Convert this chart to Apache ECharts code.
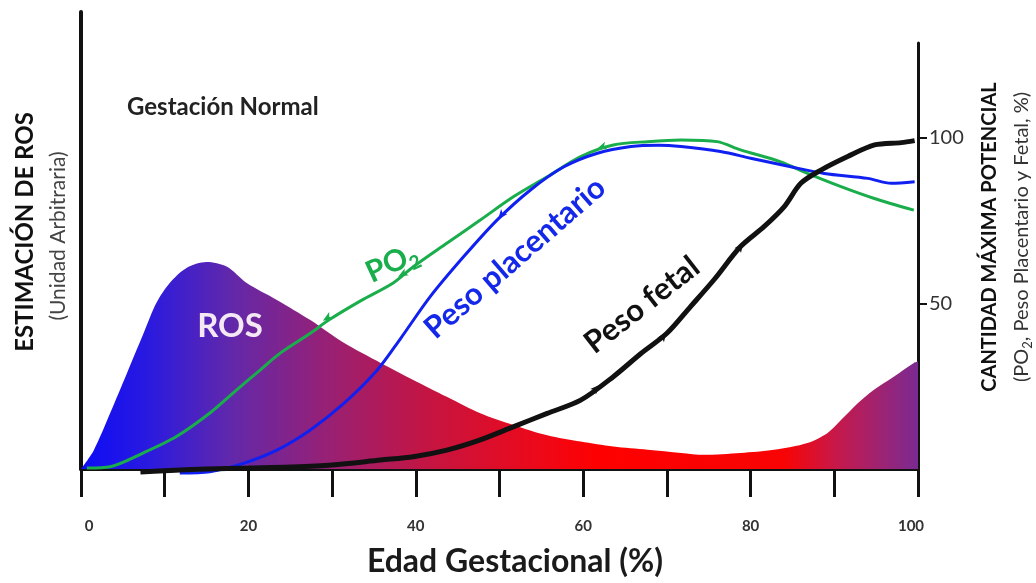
<!DOCTYPE html>
<html>
<head>
<meta charset="utf-8">
<script src="https://cdn.jsdelivr.net/npm/echarts@6/dist/echarts.min.js"></script>
<style>
  html, body { margin: 0; padding: 0; background: #ffffff; }
  #chart { width: 1036px; height: 583px; }
</style>
</head>
<body>
<div id="chart"></div>
<script>
// Gestational age (% of term) on the x axis
const xLabelValues = [0, 20, 40, 60, 80, 100];
const rightTickValues = [50, 100];

// ROS estimate, arbitrary units (left axis, 0-100)
const rosCurve = [
  [0, 0], [1.5, 4], [3.5, 12.3], [5.5, 21], [7.5, 29.8], [9, 36.3], [10.6, 40.7],
  [12.6, 44], [15, 45.3], [17.4, 44.3], [19.8, 40.7], [23.4, 37], [27.4, 32.6],
  [31.4, 27.6], [35.8, 23.2], [39.7, 19.5], [43.7, 15.8], [47.7, 12.2], [51.7, 9.6],
  [55.7, 7.4], [59.7, 6.0], [63.6, 4.9], [67.7, 4.2], [71.7, 3.5], [74.4, 3.1],
  [78.8, 3.5], [82.8, 4.2], [86.8, 5.7], [89.2, 7.9], [90.8, 10.7], [92.8, 14.4],
  [94.7, 17.3], [97.1, 20.2], [99.5, 23.2], [100, 23.5]
];

// PO2, % of maximum (right axis)
const po2Curve = [
  [0.7, 0.3], [3.5, 0.7], [7.4, 4.8], [11.4, 9.8], [15.4, 16.9], [18.6, 23.9],
  [21.4, 29.9], [23.8, 35], [27.4, 41], [29.6, 45], [33.4, 50.8], [37.3, 56.2],
  [39.7, 61.1], [43.7, 68.2], [47.7, 75.2], [51.7, 82.3], [55.7, 88.3], [59.7, 94.4],
  [63.6, 97.9], [67.7, 98.9], [71.7, 99.4], [76, 98.9], [78.8, 96.4], [83.6, 92.8],
  [86.8, 89.3], [90.8, 85.3], [94.7, 81.8], [99.5, 78.2]
];

// Placental weight, % of maximum (right axis)
const placentaCurve = [
  [11.8, -1.2], [15.4, -0.8], [19.4, 1.7], [23.4, 5.7], [27.4, 11.8], [31.4, 19.8],
  [35.4, 29.9], [38.2, 39.5], [41.7, 52], [45.7, 64.1], [49.7, 75.2], [53.7, 84.3],
  [57.7, 91.3], [61.7, 95.4], [65.7, 97.4], [69, 97.8], [71.7, 97.4], [76.4, 95.9],
  [80, 93.9], [84.8, 91.3], [88.8, 89.3], [94, 87.8], [96.8, 86.3], [99.6, 86.8]
];

// Fetal weight, % of maximum (right axis)
const fetalCurve = [
  [7.1, -0.9], [10, -0.5], [15, 0], [20, 0.3], [25, 0.6], [30, 1.2], [35.8, 2.7],
  [39.7, 3.7], [43.7, 5.7], [47.7, 8.8], [51.7, 12.8], [55.7, 16.8], [59.7, 20.8],
  [63.6, 27.9], [66.9, 34.9], [70, 41], [72.8, 49], [75.6, 57.1], [78.8, 67.2],
  [81.6, 73.2], [84, 79.2], [86, 86.3], [88.4, 90.3], [91.6, 94.4], [94.8, 97.9],
  [98, 98.6], [99.6, 99.2]
];

// Direction arrowheads along the curves: [age, value, heading in degrees]
const po2Arrows = [[29.4, 45.6, 212], [38.4, 58.8, 210], [62.2, 97.2, 200]];
const placentaArrows = [[50.2, 76.6, 232]];
const fetalArrows = [[61.6, 24.4, 45], [69.6, 40.2, 55], [78.8, 67.2, 55]];

const FONT = 'Lato, "Open Sans", sans-serif';
const deg = d => d * Math.PI / 180;
const ARROW = 'path://M0,0L12,5L0,10L3,5Z';

const chart = echarts.init(document.getElementById('chart'), null, { renderer: 'canvas' });

const rosGradient = new echarts.graphic.LinearGradient(0, 0, 1, 0, [
  { offset: 0.00, color: '#0c0cf6' },
  { offset: 0.08, color: '#2a1ae0' },
  { offset: 0.18, color: '#6228aa' },
  { offset: 0.30, color: '#9a2072' },
  { offset: 0.42, color: '#c61440' },
  { offset: 0.55, color: '#ee0818' },
  { offset: 0.62, color: '#fe0000' },
  { offset: 0.84, color: '#f80404' },
  { offset: 0.90, color: '#c81848' },
  { offset: 0.96, color: '#9a2476' },
  { offset: 1.00, color: '#7a2a92' }
]);

function arrowMarks(list, color) {
  return {
    silent: true,
    symbol: ARROW,
    symbolSize: [10, 8],
    label: { show: false },
    itemStyle: { color: color },
    data: list.map(a => ({ coord: [a[0], a[1]], symbolRotate: a[2] }))
  };
}

function labelText(x, y, text, size, color, rot, weight, align) {
  return {
    type: 'text', x: x, y: y, rotation: rot ? deg(rot) : 0, z: 10,
    style: {
      text: text, fill: color, font: (weight || 'bold') + ' ' + size + 'px ' + FONT,
      align: align || 'center', verticalAlign: 'middle'
    }
  };
}

const option = {
  animation: false,
  backgroundColor: '#ffffff',
  grid: [
    { left: 81, right: 118, top: 12, bottom: 114 },
    { left: 81, right: 118, top: 43, bottom: 114 }
  ],
  xAxis: [
    {
      gridIndex: 0, type: 'value', min: 0, max: 100, interval: 10,
      axisLine: { onZero: false, lineStyle: { color: '#111', width: 4 } },
      axisTick: { length: 28, lineStyle: { color: '#111', width: 3 } },
      splitLine: { show: false },
      axisLabel: {
        margin: 50, color: '#333', fontFamily: FONT, fontWeight: 'bold', fontSize: 15,
        formatter: v => {
          if (v === 0) return '{first|0}';
          if (v === 100) return '{last|100}';
          return xLabelValues.indexOf(v) >= 0 ? String(v) : '';
        },
        rich: {
          first: { padding: [0, 0, 0, 16], color: '#333', fontFamily: FONT, fontWeight: 'bold', fontSize: 15 },
          last: { padding: [0, 14, 0, 0], color: '#333', fontFamily: FONT, fontWeight: 'bold', fontSize: 15 }
        }
      }
    },
    { gridIndex: 1, type: 'value', min: 0, max: 100, show: false }
  ],
  yAxis: [
    {
      gridIndex: 0, type: 'value', min: 0, max: 100,
      axisLine: { show: true, onZero: false, lineStyle: { color: '#111', width: 4 } },
      axisTick: { show: false }, axisLabel: { show: false }, splitLine: { show: false }
    },
    {
      gridIndex: 1, type: 'value', position: 'right', min: 0, max: 128.7, interval: 50,
      axisLine: { show: true, onZero: false, lineStyle: { color: '#111', width: 3 } },
      axisTick: { show: true, length: 9, customValues: rightTickValues, lineStyle: { color: '#111', width: 2 } },
      axisLabel: {
        customValues: rightTickValues, margin: 11, color: '#333', fontFamily: FONT, fontSize: 20,
        formatter: v => (rightTickValues.indexOf(v) >= 0 ? String(v) : '')
      },
      splitLine: { show: false }
    }
  ],
  series: [
    {
      name: 'ROS', type: 'line', xAxisIndex: 0, yAxisIndex: 0, data: rosCurve,
      smooth: 0.3, showSymbol: false, lineStyle: { width: 0 },
      areaStyle: { color: rosGradient, opacity: 1 }, z: 1
    },
    {
      name: 'PO2', type: 'line', xAxisIndex: 1, yAxisIndex: 1, data: po2Curve,
      smooth: 0.3, showSymbol: false, clip: false,
      lineStyle: { color: '#1aad4c', width: 3 }, z: 3,
      markPoint: arrowMarks(po2Arrows, '#1aad4c')
    },
    {
      name: 'Peso placentario', type: 'line', xAxisIndex: 1, yAxisIndex: 1, data: placentaCurve,
      smooth: 0.3, showSymbol: false, clip: false,
      lineStyle: { color: '#1020f0', width: 3 }, z: 4,
      markPoint: arrowMarks(placentaArrows, '#1020f0')
    },
    {
      name: 'Peso fetal', type: 'line', xAxisIndex: 1, yAxisIndex: 1, data: fetalCurve,
      smooth: 0.3, showSymbol: false, clip: false,
      lineStyle: { color: '#111111', width: 5 }, z: 5,
      markPoint: arrowMarks(fetalArrows, '#111111')
    }
  ],
  graphic: [
    labelText(127, 107, 'Gestación Normal', 24, '#222', 0, 'bold', 'left'),
    labelText(515, 562, 'Edad Gestacional (%)', 32, '#1a1a1a'),
    labelText(25, 232, 'ESTIMACIÓN DE ROS', 24, '#111', 90),
    labelText(58, 236, '(Unidad Arbitraria)', 21, '#444', 90, 'normal'),
    labelText(990, 237, 'CANTIDAD MÁXIMA POTENCIAL', 20, '#111', 90),
    {
      type: 'text', x: 1022, y: 237, rotation: deg(90), z: 10,
      style: {
        text: '{m|(PO}{s|2}{m|, Peso Placentario y Fetal, %)}',
        align: 'center', verticalAlign: 'middle',
        rich: {
          m: { fontFamily: FONT, fontSize: 20, fill: '#333', color: '#333', verticalAlign: 'middle', lineHeight: 24 },
          s: { fontFamily: FONT, fontSize: 13, fill: '#333', color: '#333', verticalAlign: 'bottom', lineHeight: 24 }
        }
      }
    },
    labelText(230, 326, 'ROS', 33, '#f4e8f4'),
    {
      type: 'text', x: 392, y: 263, rotation: deg(25), z: 10,
      style: {
        text: '{m|PO}{s|2}', align: 'center', verticalAlign: 'middle',
        rich: {
          m: { fontFamily: FONT, fontWeight: 'bold', fontSize: 30, fill: '#1aad4c', color: '#1aad4c', verticalAlign: 'middle', lineHeight: 38 },
          s: { fontFamily: FONT, fontWeight: 'bold', fontSize: 19, fill: '#1aad4c', color: '#1aad4c', verticalAlign: 'bottom', lineHeight: 38 }
        }
      }
    },
    labelText(515, 258, 'Peso placentario', 31, '#1428ea', 41),
    labelText(642, 305, 'Peso fetal', 31, '#111', 38)
  ]
};

chart.setOption(option);
</script>
</body>
</html>
